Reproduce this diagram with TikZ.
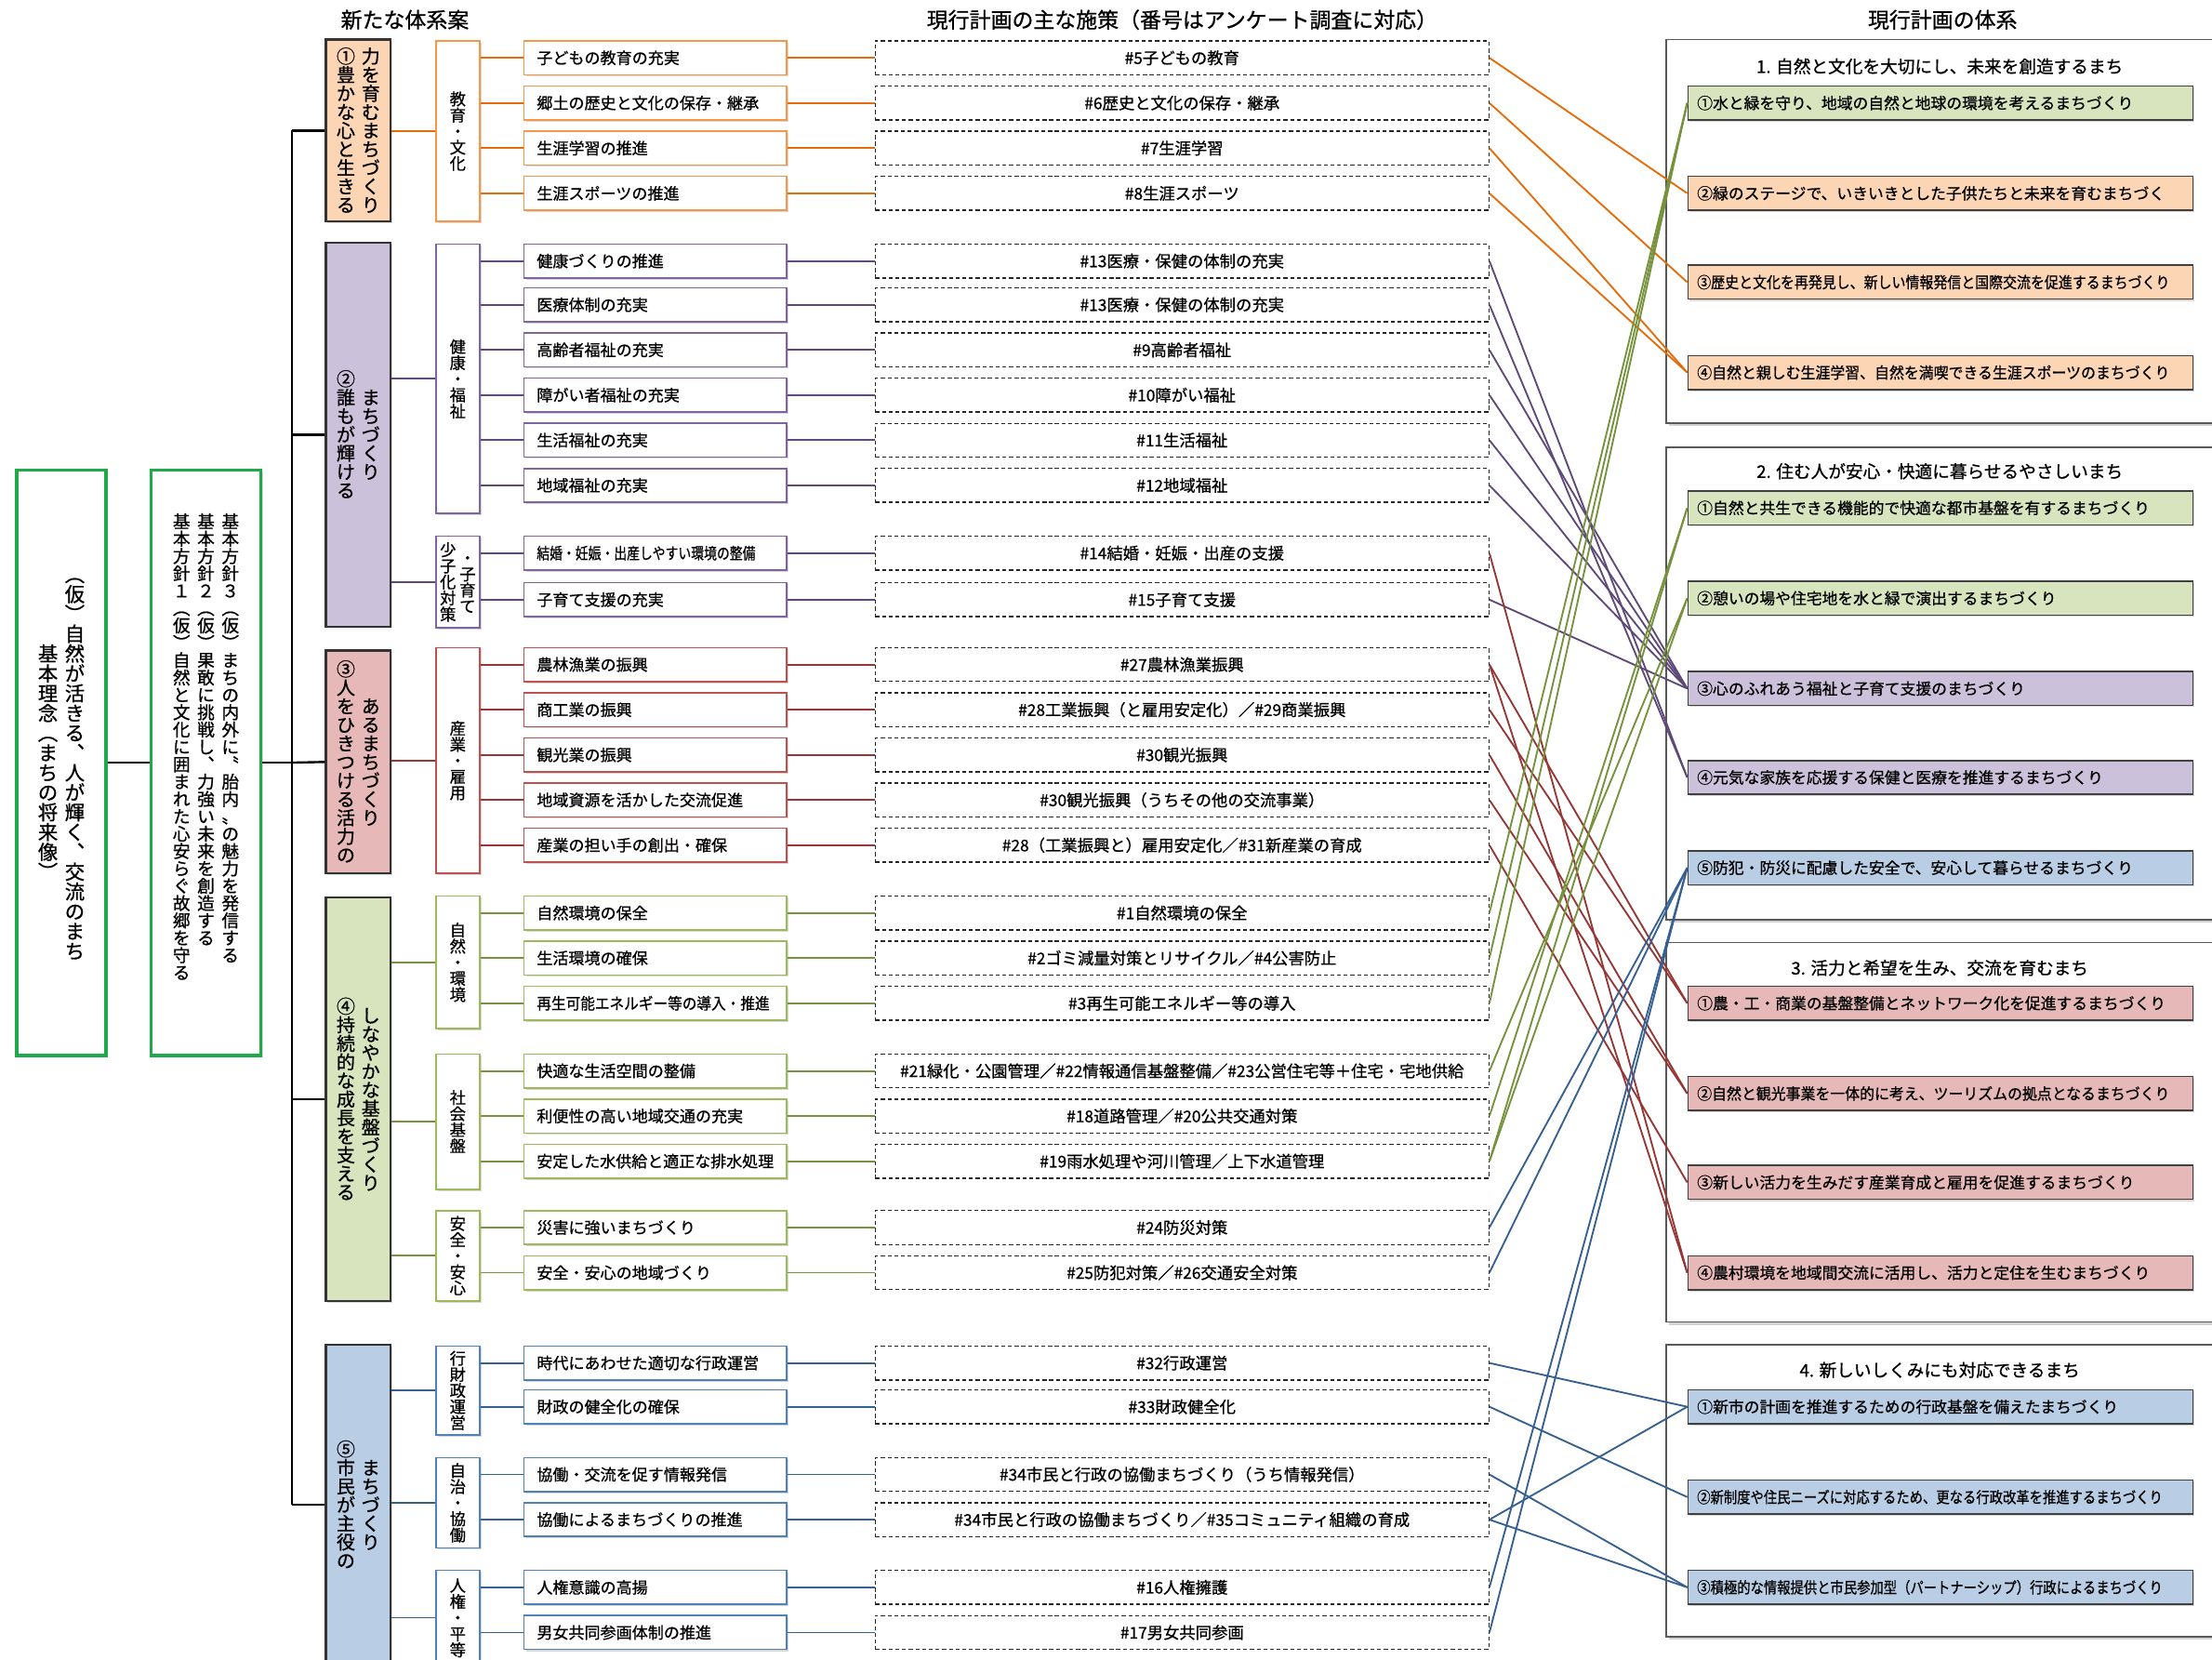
\documentclass[tikz,border=0pt]{standalone}
\usepackage{fontspec}
\setmainfont{Noto Sans CJK JP}[FakeBold=0.8]
\usetikzlibrary{shadows}

\definecolor{orgL}{HTML}{E46C0A}
\definecolor{purL}{HTML}{5F497A}
\definecolor{redL}{HTML}{953735}
\definecolor{grnL}{HTML}{76923C}
\definecolor{bluL}{HTML}{376092}
\definecolor{orgB}{HTML}{F79646}
\definecolor{purB}{HTML}{8064A2}
\definecolor{redB}{HTML}{C0504D}
\definecolor{grnB}{HTML}{9BBB59}
\definecolor{bluB}{HTML}{4F81BD}
\definecolor{orgF}{HTML}{FCD5B5}
\definecolor{purF}{HTML}{CCC1DA}
\definecolor{redF}{HTML}{E6B9B8}
\definecolor{grnF}{HTML}{D7E4BD}
\definecolor{bluF}{HTML}{B9CDE5}
\definecolor{rootG}{HTML}{1FAA4A}

% vertical (tate) text columns
\makeatletter
\newcommand\tatebox[1]{\offinterlineskip\@tfor\tate@c:=#1\do{\hbox to 1em{\hss\vrule height .88em depth .12em width 0pt\tate@c\hss}}}
\newcommand\tatec[1]{$\vcenter{\tatebox{#1}}$}
\newcommand\tatet[1]{\vtop{\tatebox{#1}}}
\makeatother
\newsavebox\fitbx
\newcommand\fitw[2]{\sbox\fitbx{#2}\ifdim\wd\fitbx>#1\relax\resizebox{#1}{\ht\fitbx}{\usebox\fitbx}\else\usebox\fitbx\fi}

\begin{document}
\begin{tikzpicture}[x=0.02cm,y=-0.02cm]
\tikzset{
  hd/.style={font=\fontsize{8.6pt}{10pt}\selectfont},
  shade1/.style={drop shadow={opacity=.3,shadow xshift=.7pt,shadow yshift=-.7pt}},
  rootbox/.style={draw=rootG,line width=1.3pt,fill=white,inner sep=0pt,shade1},
  catbox/.style={draw=black!80,line width=.8pt,minimum width=.92cm,inner sep=0pt,font=\fontsize{7.5pt}{8pt}\selectfont,shade1},
  subbox/.style={fill=white,line width=.6pt,minimum width=.62cm,inner sep=0pt,font=\fontsize{6.5pt}{7pt}\selectfont,shade1},
  itembox/.style={fill=white,line width=.6pt,anchor=west,minimum height=.48cm,text width=3.36cm,inner xsep=.18cm,inner ysep=0pt,align=left,font=\fontsize{6.4pt}{7pt}\selectfont,shade1},
  planbox/.style={draw=black!85,dash pattern=on 1.6pt off 1.1pt,line width=.5pt,anchor=west,minimum width=8.7cm,minimum height=.48cm,inner sep=0pt,font=\fontsize{6.5pt}{7pt}\selectfont},
  groupbox/.style={draw=black!65,line width=.6pt,fill=white,minimum width=8.38cm,inner sep=0pt,drop shadow={opacity=.35,shadow xshift=1pt,shadow yshift=-1.2pt}},
  gtitle/.style={font=\fontsize{7pt}{8pt}\selectfont},
  goalbox/.style={draw=black!75,line width=.6pt,anchor=west,minimum height=.48cm,text width=6.9cm,inner xsep=.13cm,inner ysep=0pt,align=left,font=\fontsize{6.3pt}{7pt}\selectfont,shade1},
  subO/.style={subbox,draw=orgB}, subP/.style={subbox,draw=purB}, subR/.style={subbox,draw=redB},
  subG/.style={subbox,draw=grnB}, subB/.style={subbox,draw=bluB},
  itemO/.style={itembox,draw=orgB}, itemP/.style={itembox,draw=purB}, itemR/.style={itembox,draw=redB},
  itemG/.style={itembox,draw=grnB}, itemB/.style={itembox,draw=bluB},
  goalO/.style={goalbox,fill=orgF}, goalP/.style={goalbox,fill=purF}, goalR/.style={goalbox,fill=redF},
  goalG/.style={goalbox,fill=grnF}, goalB/.style={goalbox,fill=bluF},
  trunk/.style={draw=black,line width=.9pt},
  lineO/.style={draw=orgL,line width=.7pt}, lineP/.style={draw=purL,line width=.7pt},
  lineR/.style={draw=redL,line width=.7pt}, lineG/.style={draw=grnL,line width=.7pt},
  lineB/.style={draw=bluL,line width=.7pt}
}
\useasboundingbox (0,0) rectangle (1568,1176);
\fill[white] (0,0) rectangle (1568,1176);

\node (h1) at (287,14) [hd] {新たな体系案};
\node (h2) at (838,14) [hd] {現行計画の主な施策（番号はアンケート調査に対応）};
\node (h3) at (1377,14) [hd] {現行計画の体系};

% current plan groups
\node (g1) at (1390.5,164) [groupbox,minimum height=5.44cm] {};
\node (g2) at (1390.5,484.5) [groupbox,minimum height=6.7cm] {};
\node (g3) at (1390.5,802.5) [groupbox,minimum height=5.38cm] {};
\node (g4) at (1390.5,1056.5) [groupbox,minimum height=4.14cm] {};
\node (gt1) at (1375,47) [gtitle] {1. 自然と文化を大切にし、未来を創造するまち};
\node (gt2) at (1375,334) [gtitle] {2. 住む人が安心・快適に暮らせるやさしいまち};
\node (gt3) at (1375,686) [gtitle] {3. 活力と希望を生み、交流を育むまち};
\node (gt4) at (1375,971) [gtitle] {4. 新しいしくみにも対応できるまち};

\node (r1a) at (1196,73) [goalG] {\fitw{6.9cm}{①水と緑を守り、地域の自然と地球の環境を考えるまちづくり}};
\node (r1b) at (1196,137) [goalO] {\fitw{6.9cm}{②緑のステージで、いきいきとした子供たちと未来を育むまちづく}};
\node (r1c) at (1196,200) [goalO] {\fitw{6.7cm}{③歴史と文化を再発見し、新しい情報発信と国際交流を促進するまちづくり}};
\node (r1d) at (1196,264) [goalO] {\fitw{6.7cm}{④自然と親しむ生涯学習、自然を満喫できる生涯スポーツのまちづくり}};
\node (r2a) at (1196,360) [goalG] {\fitw{6.9cm}{①自然と共生できる機能的で快適な都市基盤を有するまちづくり}};
\node (r2b) at (1196,424) [goalG] {\fitw{6.9cm}{②憩いの場や住宅地を水と緑で演出するまちづくり}};
\node (r2c) at (1196,488) [goalP] {\fitw{6.9cm}{③心のふれあう福祉と子育て支援のまちづくり}};
\node (r2d) at (1196,551) [goalP] {\fitw{6.9cm}{④元気な家族を応援する保健と医療を推進するまちづくり}};
\node (r2e) at (1196,615) [goalB] {\fitw{6.9cm}{⑤防犯・防災に配慮した安全で、安心して暮らせるまちづくり}};
\node (r3a) at (1196,711) [goalR] {\fitw{6.9cm}{①農・工・商業の基盤整備とネットワーク化を促進するまちづくり}};
\node (r3b) at (1196,775) [goalR] {\fitw{6.7cm}{②自然と観光事業を一体的に考え、ツーリズムの拠点となるまちづくり}};
\node (r3c) at (1196,838) [goalR] {\fitw{6.9cm}{③新しい活力を生みだす産業育成と雇用を促進するまちづくり}};
\node (r3d) at (1196,902) [goalR] {\fitw{6.9cm}{④農村環境を地域間交流に活用し、活力と定住を生むまちづくり}};
\node (r4a) at (1196,997) [goalB] {\fitw{6.9cm}{①新市の計画を推進するための行政基盤を備えたまちづくり}};
\node (r4b) at (1196,1061) [goalB] {\fitw{6.6cm}{②新制度や住民ニーズに対応するため、更なる行政改革を推進するまちづくり}};
\node (r4c) at (1196,1125) [goalB] {\fitw{6.6cm}{③積極的な情報提供と市民参加型（パートナーシップ）行政によるまちづくり}};

% basic idea and policies
\node (a) at (43.5,540.5) [rootbox,minimum width=1.26cm,minimum height=8.3cm,font=\fontsize{8pt}{9pt}\selectfont] {\tatec{基本理念︵まちの将来像︶}\hspace{.1cm}\tatec{︵仮︶自然が活きる︑人が輝く︑交流のまち}};
\node (b) at (146,540.5) [rootbox,minimum width=1.56cm,minimum height=8.3cm] {};
\node (bt) at (146,363) [anchor=north,inner sep=0pt,font=\fontsize{7pt}{8pt}\selectfont] {\tatet{基本方針１︵仮︶自然と文化に囲まれた心安らぐ故郷を守る}\hspace{.1cm}\tatet{基本方針２︵仮︶果敢に挑戦し︑力強い未来を創造する}\hspace{.1cm}\tatet{基本方針３︵仮︶まちの内外に〝胎内〟の魅力を発信する}};
\coordinate (t1) at (207,92.5);
\coordinate (t2) at (207,308);
\coordinate (t3) at (207,540.5);
\coordinate (t4) at (207,779);
\coordinate (t5) at (207,1066.5);

% new system
\node (c1) at (254,92.5) [catbox,fill=orgF,minimum height=2.58cm] {\tatec{①豊かな心と生きる}\hspace{.09cm}\tatec{力を育むまちづくり}};
\node (c2) at (254,308) [catbox,fill=purF,minimum height=5.44cm] {\tatec{②誰もが輝ける}\hspace{.09cm}\tatec{まちづくり}};
\node (c3) at (254,540) [catbox,fill=redF,minimum height=3.16cm] {\tatec{③人をひきつける活力の}\hspace{.09cm}\tatec{あるまちづくり}};
\node (c4) at (254,779) [catbox,fill=grnF,minimum height=5.72cm] {\tatec{④持続的な成長を支える}\hspace{.09cm}\tatec{しなやかな基盤づくり}};
\node (c5) at (254,1066.5) [catbox,fill=bluF,minimum height=4.54cm] {\tatec{⑤市民が主役の}\hspace{.09cm}\tatec{まちづくり}};

\node (s1) at (324.5,93) [subO,minimum height=2.56cm] {\tatec{教育・文化}};
\node (s2) at (324.5,268.5) [subP,minimum height=3.82cm] {\tatec{健康・福祉}};
\node (s3) at (324.5,412.5) [subP,minimum height=1.3cm] {\tatec{少子化対策}\hspace{.05cm}\tatec{・子育て}};
\node (s4) at (324.5,539) [subR,minimum height=3.2cm] {\tatec{産業・雇用}};
\node (s5) at (324.5,682) [subG,minimum height=1.88cm] {\tatec{自然・環境}};
\node (s6) at (324.5,795) [subG,minimum height=1.92cm] {\tatec{社会基盤}};
\node (s7) at (324.5,890) [subG,minimum height=1.28cm] {\tatec{安全・安心}};
\node (s8) at (324.5,985.5) [subB,minimum height=1.26cm] {\tatec{行財政運営}};
\node (s9) at (324.5,1065) [subB,minimum height=1.28cm] {\tatec{自治・協働}};
\node (s10) at (324.5,1146.5) [subB,minimum height=1.34cm] {\tatec{人権・平等}};

\node (i1) at (371,41) [itemO] {子どもの教育の充実};
\node (i2) at (371,73) [itemO] {郷土の歴史と文化の保存・継承};
\node (i3) at (371,105) [itemO] {生涯学習の推進};
\node (i4) at (371,137) [itemO] {生涯スポーツの推進};
\node (i5) at (371,185) [itemP] {健康づくりの推進};
\node (i6) at (371,216) [itemP] {医療体制の充実};
\node (i7) at (371,248) [itemP] {高齢者福祉の充実};
\node (i8) at (371,280) [itemP] {障がい者福祉の充実};
\node (i9) at (371,312) [itemP] {生活福祉の充実};
\node (i10) at (371,344) [itemP] {地域福祉の充実};
\node (i11) at (371,392) [itemP] {\fitw{3.1cm}{結婚・妊娠・出産しやすい環境の整備}};
\node (i12) at (371,425) [itemP] {子育て支援の充実};
\node (i13) at (371,471) [itemR] {農林漁業の振興};
\node (i14) at (371,503) [itemR] {商工業の振興};
\node (i15) at (371,535) [itemR] {観光業の振興};
\node (i16) at (371,567) [itemR] {地域資源を活かした交流促進};
\node (i17) at (371,599) [itemR] {産業の担い手の創出・確保};
\node (i18) at (371,647) [itemG] {自然環境の保全};
\node (i19) at (371,679) [itemG] {生活環境の確保};
\node (i20) at (371,711) [itemG] {\fitw{3.3cm}{再生可能エネルギー等の導入・推進}};
\node (i21) at (371,759) [itemG] {快適な生活空間の整備};
\node (i22) at (371,791) [itemG] {利便性の高い地域交通の充実};
\node (i23) at (371,823) [itemG] {\fitw{3.36cm}{安定した水供給と適正な排水処理}};
\node (i24) at (371,870) [itemG] {災害に強いまちづくり};
\node (i25) at (371,902) [itemG] {安全・安心の地域づくり};
\node (i26) at (371,966) [itemB] {時代にあわせた適切な行政運営};
\node (i27) at (371,997) [itemB] {財政の健全化の確保};
\node (i28) at (371,1045) [itemB] {協働・交流を促す情報発信};
\node (i29) at (371,1077) [itemB] {協働によるまちづくりの推進};
\node (i30) at (371,1125) [itemB] {人権意識の高揚};
\node (i31) at (371,1157) [itemB] {男女共同参画体制の推進};

% current measures
\node (d1) at (620,41) [planbox] {\#5子どもの教育};
\node (d2) at (620,73) [planbox] {\#6歴史と文化の保存・継承};
\node (d3) at (620,105) [planbox] {\#7生涯学習};
\node (d4) at (620,137) [planbox] {\#8生涯スポーツ};
\node (d5) at (620,185) [planbox] {\#13医療・保健の体制の充実};
\node (d6) at (620,216) [planbox] {\#13医療・保健の体制の充実};
\node (d7) at (620,248) [planbox] {\#9高齢者福祉};
\node (d8) at (620,280) [planbox] {\#10障がい福祉};
\node (d9) at (620,312) [planbox] {\#11生活福祉};
\node (d10) at (620,344) [planbox] {\#12地域福祉};
\node (d11) at (620,392) [planbox] {\#14結婚・妊娠・出産の支援};
\node (d12) at (620,425) [planbox] {\#15子育て支援};
\node (d13) at (620,471) [planbox] {\#27農林漁業振興};
\node (d14) at (620,503) [planbox] {\#28工業振興（と雇用安定化）／\#29商業振興};
\node (d15) at (620,535) [planbox] {\#30観光振興};
\node (d16) at (620,567) [planbox] {\#30観光振興（うちその他の交流事業）};
\node (d17) at (620,599) [planbox] {\#28（工業振興と）雇用安定化／\#31新産業の育成};
\node (d18) at (620,647) [planbox] {\#1自然環境の保全};
\node (d19) at (620,679) [planbox] {\#2ゴミ減量対策とリサイクル／\#4公害防止};
\node (d20) at (620,711) [planbox] {\#3再生可能エネルギー等の導入};
\node (d21) at (620,759) [planbox] {\#21緑化・公園管理／\#22情報通信基盤整備／\#23公営住宅等＋住宅・宅地供給};
\node (d22) at (620,791) [planbox] {\#18道路管理／\#20公共交通対策};
\node (d23) at (620,823) [planbox] {\#19雨水処理や河川管理／上下水道管理};
\node (d24) at (620,870) [planbox] {\#24防災対策};
\node (d25) at (620,902) [planbox] {\#25防犯対策／\#26交通安全対策};
\node (d26) at (620,966) [planbox] {\#32行政運営};
\node (d27) at (620,997) [planbox] {\#33財政健全化};
\node (d28) at (620,1045) [planbox] {\#34市民と行政の協働まちづくり（うち情報発信）};
\node (d29) at (620,1077) [planbox] {\#34市民と行政の協働まちづくり／\#35コミュニティ組織の育成};
\node (d30) at (620,1125) [planbox] {\#16人権擁護};
\node (d31) at (620,1157) [planbox] {\#17男女共同参画};

\path
(a.east) edge [trunk] (b.west)
(b.east) edge [trunk] (t3)
(t1) edge [trunk] (t5)
(t1) edge [trunk] (c1.west)
(t2) edge [trunk] (c2.west)
(t3) edge [trunk] (c3.west)
(t4) edge [trunk] (c4.west)
(t5) edge [trunk] (c5.west);

\path
(s1.west -| c1.east) edge [lineO] (s1.west)
(i1.west -| s1.east) edge [lineO] (i1.west)
(i2.west -| s1.east) edge [lineO] (i2.west)
(i3.west -| s1.east) edge [lineO] (i3.west)
(i4.west -| s1.east) edge [lineO] (i4.west)
(i1.east) edge [lineO] (d1.west)
(i2.east) edge [lineO] (d2.west)
(i3.east) edge [lineO] (d3.west)
(i4.east) edge [lineO] (d4.west)
(d1.east) edge [lineO] (r1b.west)
(d2.east) edge [lineO] (r1c.west)
(d3.east) edge [lineO] (r1d.west)
(d4.east) edge [lineO] (r1d.west);

\path
(s2.west -| c2.east) edge [lineP] (s2.west)
(s3.west -| c2.east) edge [lineP] (s3.west)
(i5.west -| s2.east) edge [lineP] (i5.west)
(i6.west -| s2.east) edge [lineP] (i6.west)
(i7.west -| s2.east) edge [lineP] (i7.west)
(i8.west -| s2.east) edge [lineP] (i8.west)
(i9.west -| s2.east) edge [lineP] (i9.west)
(i10.west -| s2.east) edge [lineP] (i10.west)
(i11.west -| s3.east) edge [lineP] (i11.west)
(i12.west -| s3.east) edge [lineP] (i12.west)
(i5.east) edge [lineP] (d5.west)
(i6.east) edge [lineP] (d6.west)
(i7.east) edge [lineP] (d7.west)
(i8.east) edge [lineP] (d8.west)
(i9.east) edge [lineP] (d9.west)
(i10.east) edge [lineP] (d10.west)
(i11.east) edge [lineP] (d11.west)
(i12.east) edge [lineP] (d12.west)
(d5.east) edge [lineP] (r2d.west)
(d6.east) edge [lineP] (r2d.west)
(d7.east) edge [lineP] (r2c.west)
(d8.east) edge [lineP] (r2c.west)
(d9.east) edge [lineP] (r2c.west)
(d10.east) edge [lineP] (r2c.west)
(d12.east) edge [lineP] (r2c.west);

\path
(s4.west -| c3.east) edge [lineR] (s4.west)
(i13.west -| s4.east) edge [lineR] (i13.west)
(i14.west -| s4.east) edge [lineR] (i14.west)
(i15.west -| s4.east) edge [lineR] (i15.west)
(i16.west -| s4.east) edge [lineR] (i16.west)
(i17.west -| s4.east) edge [lineR] (i17.west)
(i13.east) edge [lineR] (d13.west)
(i14.east) edge [lineR] (d14.west)
(i15.east) edge [lineR] (d15.west)
(i16.east) edge [lineR] (d16.west)
(i17.east) edge [lineR] (d17.west)
(d11.east) edge [lineR] (r3d.west)
(d13.east) edge [lineR] (r3a.west)
(d13.east) edge [lineR] (r3d.west)
(d14.east) edge [lineR] (r3a.west)
(d15.east) edge [lineR] (r3b.west)
(d16.east) edge [lineR] (r3b.west)
(d17.east) edge [lineR] (r3c.west);

\path
(s5.west -| c4.east) edge [lineG] (s5.west)
(s6.west -| c4.east) edge [lineG] (s6.west)
(s7.west -| c4.east) edge [lineG] (s7.west)
(i18.west -| s5.east) edge [lineG] (i18.west)
(i19.west -| s5.east) edge [lineG] (i19.west)
(i20.west -| s5.east) edge [lineG] (i20.west)
(i21.west -| s6.east) edge [lineG] (i21.west)
(i22.west -| s6.east) edge [lineG] (i22.west)
(i23.west -| s6.east) edge [lineG] (i23.west)
(i24.west -| s7.east) edge [lineG] (i24.west)
(i25.west -| s7.east) edge [lineG] (i25.west)
(i18.east) edge [lineG] (d18.west)
(i19.east) edge [lineG] (d19.west)
(i20.east) edge [lineG] (d20.west)
(i21.east) edge [lineG] (d21.west)
(i22.east) edge [lineG] (d22.west)
(i23.east) edge [lineG] (d23.west)
(i24.east) edge [lineG] (d24.west)
(i25.east) edge [lineG] (d25.west)
(d18.east) edge [lineG] (r1a.west)
(d19.east) edge [lineG] (r1a.west)
(d20.east) edge [lineG] (r1a.west)
(d21.east) edge [lineG] (r2b.west)
(d22.east) edge [lineG] (r2a.west)
(d23.east) edge [lineG] (r2a.west)
(d23.east) edge [lineG] (r2b.west);

\path
(s8.west -| c5.east) edge [lineB] (s8.west)
(s9.west -| c5.east) edge [lineB] (s9.west)
(s10.west -| c5.east) edge [lineB] (s10.west)
(i26.west -| s8.east) edge [lineB] (i26.west)
(i27.west -| s8.east) edge [lineB] (i27.west)
(i28.west -| s9.east) edge [lineB] (i28.west)
(i29.west -| s9.east) edge [lineB] (i29.west)
(i30.west -| s10.east) edge [lineB] (i30.west)
(i31.west -| s10.east) edge [lineB] (i31.west)
(i26.east) edge [lineB] (d26.west)
(i27.east) edge [lineB] (d27.west)
(i28.east) edge [lineB] (d28.west)
(i29.east) edge [lineB] (d29.west)
(i30.east) edge [lineB] (d30.west)
(i31.east) edge [lineB] (d31.west)
(d24.east) edge [lineB] (r2e.west)
(d25.east) edge [lineB] (r2e.west)
(d26.east) edge [lineB] (r4a.west)
(d27.east) edge [lineB] (r4b.west)
(d28.east) edge [lineB] (r4c.west)
(d29.east) edge [lineB] (r4a.west)
(d29.east) edge [lineB] (r4c.west)
(d30.east) edge [lineB] (r2e.west)
(d31.east) edge [lineB] (r2e.west);
\end{tikzpicture}
\end{document}
